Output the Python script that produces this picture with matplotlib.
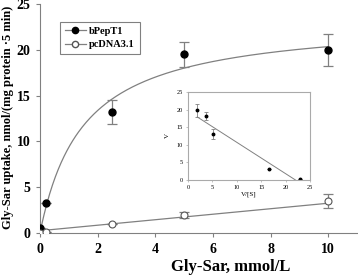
import numpy as np
import matplotlib
matplotlib.use("Agg")
import matplotlib.pyplot as plt

# Main data
conc = [0, 0.2, 2.5, 5, 10]
pept1 = [0.5, 3.3, 13.2, 19.5, 20.0]
pept1_err = [0, 0, 1.3, 1.4, 1.75]
pcdna = [0.0, 0.15, 1.0, 1.97, 3.5]
pcdna_err = [0, 0, 0, 0.3, 0.8]

# Michaelis-Menten fit parameters (bPepT1) and linear fit (pcDNA3.1)
vmax, km = 23.4, 1.5
lin_slope, lin_icpt = 0.3, 0.25

# Inset (Eadie-Hofstee)
vs = [1.9, 3.7, 5.2, 16.7, 23.0]
v = [19.8, 18.2, 13.0, 3.1, 0.3]
v_err = [1.8, 1.1, 1.4, 0, 0]
reg_icpt, reg_slope = 19.6, -0.89
reg_x = [1.9, 22.0]

serif = "Liberation Serif"
plt.rcParams["font.family"] = serif

fig = plt.figure(figsize=(3.58, 2.77), dpi=100)
ax = fig.add_axes([40/358, 44/277, 317/358, 229/277])

gray = "#808080"
xf = np.linspace(0, 10, 300)
ax.plot(xf, vmax*xf/(km+xf), color=gray, lw=0.9, zorder=2)
ax.plot([0, 10], [lin_icpt, lin_icpt + lin_slope*10], color=gray, lw=0.9, zorder=2)

ax.errorbar(conc, pept1, yerr=pept1_err, fmt="none", ecolor=gray, elinewidth=0.9, capsize=3.5, capthick=0.9, zorder=3)
ax.errorbar(conc, pcdna, yerr=pcdna_err, fmt="none", ecolor=gray, elinewidth=0.9, capsize=3.5, capthick=0.9, zorder=3)
ax.plot(conc, pept1, "o", color="black", ms=5, zorder=4)
ax.plot(conc, pcdna, "o", mfc="white", mec="#555555", mew=0.8, ms=5, zorder=4)

# legend proxies
h1, = ax.plot([], [], "-o", color=gray, mfc="black", mec="black", ms=4.5, lw=0.9)
h2, = ax.plot([], [], "-o", color=gray, mfc="white", mec="#555555", ms=4.5, lw=0.9)
leg = ax.legend([h1, h2], ["bPepT1", "pcDNA3.1"], loc="upper left",
                bbox_to_anchor=(20/317, 1-18/229), borderaxespad=0, fancybox=False, edgecolor=gray,
                framealpha=1, borderpad=0.45, handlelength=2.0, handletextpad=0.35,
                labelspacing=0.4, prop={"family": serif, "weight": "bold", "size": 7.5})
leg.get_frame().set_linewidth(0.8)

ax.set_xlim(0, 11)
ax.set_ylim(0, 25)
ax.set_xticks([0, 2, 4, 6, 8, 10])
ax.set_yticks([0, 5, 10, 15, 20, 25])
for s in ["top", "right"]:
    ax.spines[s].set_visible(False)
for s in ["left", "bottom"]:
    ax.spines[s].set_color(gray)
    ax.spines[s].set_linewidth(0.8)
ax.tick_params(direction="out", length=3, width=0.8, color=gray, labelsize=10, pad=4)
for lab in ax.get_xticklabels() + ax.get_yticklabels():
    lab.set_fontweight("bold")
ax.set_xlabel("Gly-Sar, mmol/L", fontsize=12, fontweight="bold")
ax.xaxis.set_label_coords(0.6, -0.115)
ax.set_ylabel("Gly-Sar uptake, nmol/(mg protein \u00b75 min)", fontsize=9, fontweight="bold")
ax.yaxis.set_label_coords(-0.082, 0.505)

# inset
ai = fig.add_axes([188/358, (277-180)/277, 122/358, 88/277])
ai.plot(reg_x, [reg_icpt + reg_slope*x for x in reg_x], color=gray, lw=0.7)
ai.errorbar(vs, v, yerr=v_err, fmt="none", ecolor=gray, elinewidth=0.6, capsize=1.5, capthick=0.6)
ai.plot(vs, v, "o", color="black", ms=1.8)
ai.set_xlim(0, 25)
ai.set_ylim(0, 25)
ai.set_xticks([0, 5, 10, 15, 20, 25])
ai.set_yticks([0, 5, 10, 15, 20, 25])
for s in ai.spines.values():
    s.set_color("#aaaaaa")
    s.set_linewidth(0.8)
ai.tick_params(direction="out", length=1.5, width=0.5, color="#aaaaaa", labelsize=4.5, pad=2)
ai.set_xlabel("V/[S]", fontsize=5, labelpad=1.5)
ai.set_ylabel("V", fontsize=5, labelpad=5)

fig.savefig("out.png", dpi=100)
